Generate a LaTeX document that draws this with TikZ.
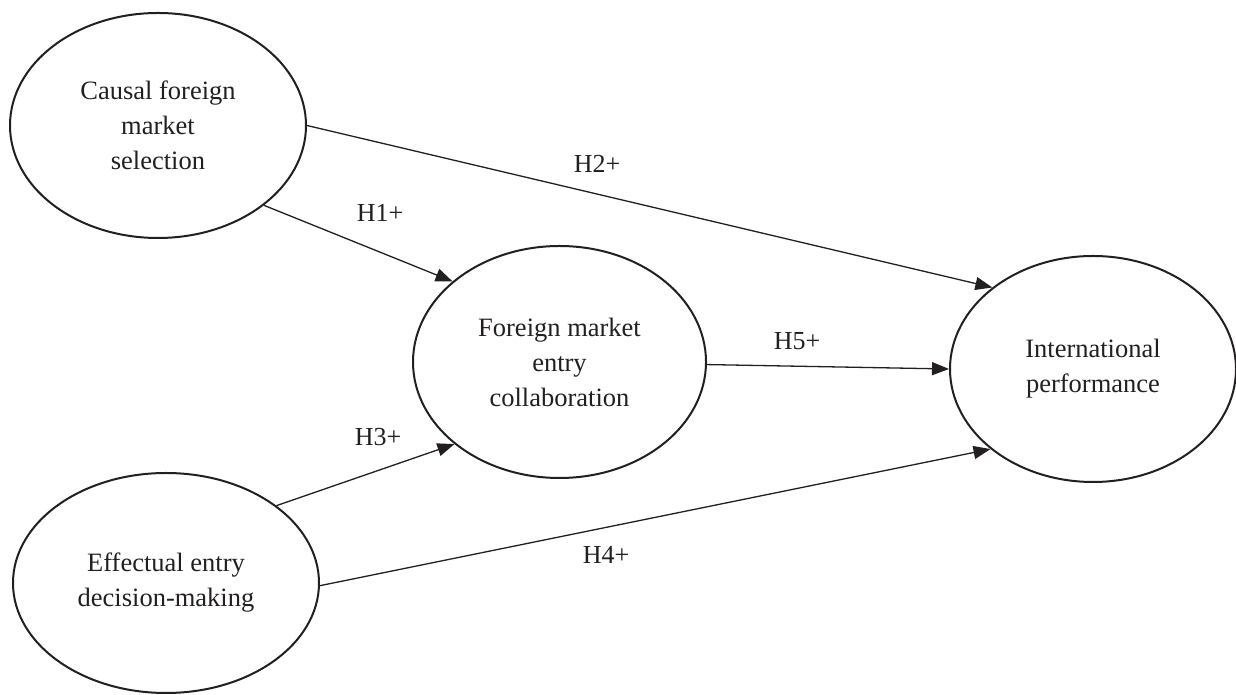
\documentclass[tikz,border=0pt]{standalone}
\usepackage{fontspec}
\setmainfont{Liberation Serif}
\usetikzlibrary{shapes.geometric,arrows.meta}
\definecolor{ink}{HTML}{231F20}
\tikzset{
  construct/.style={ellipse, draw=ink, line width=2pt, inner sep=0pt, align=center,
    font=\fontsize{26.5}{35}\selectfont, text=ink},
  path/.style={draw=ink, line width=1.3pt, -{Triangle[length=17pt,width=13pt]}},
  hyp/.style={font=\fontsize{26}{30}\selectfont, text=ink}
}
\begin{document}
\begin{tikzpicture}[x=1pt,y=1pt]
\useasboundingbox (0,0) rectangle (1236,695);
\node[construct, minimum width=296pt, minimum height=225pt] (c) at (158,569.5) {Causal foreign\\market\\selection};
\node[construct, minimum width=293pt, minimum height=232pt] (f) at (559.5,333) {Foreign market\\entry\\collaboration};
\node[construct, minimum width=286pt, minimum height=226pt] (ip) at (1093,326) {International\\performance};
\node[construct, minimum width=306pt, minimum height=220pt] (e) at (166,112) {Effectual entry\\decision-making};

\draw[path] (c.0) -- (ip.141.3);
\draw[path] (c.-37.1) -- (f.143.6);
\draw[path] (f.-1) -- (ip.180);
\draw[path] (e.35.1) -- (f.218.5);
\draw[path] (e.-1) -- (ip.218.4);

\node[hyp] (h1) at (380,482) {H1+};
\node[hyp] (h2) at (597,531) {H2+};
\node[hyp] (h3) at (378,258) {H3+};
\node[hyp] (h4) at (606,140) {H4+};
\node[hyp] (h5) at (797,354) {H5+};
\end{tikzpicture}
\end{document}
